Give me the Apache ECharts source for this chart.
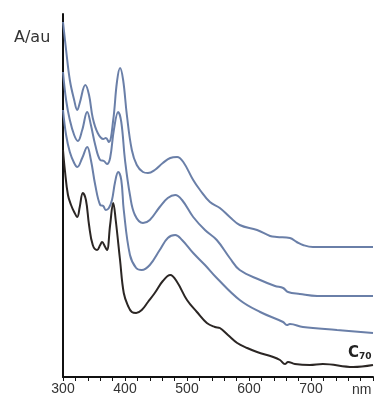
<!DOCTYPE html>
<html>
<head>
<meta charset="utf-8">
<script src="https://cdn.jsdelivr.net/npm/echarts@6/dist/echarts.min.js"></script>
<style>
  html, body { margin: 0; padding: 0; background: #fff; }
  #chart { width: 376px; height: 394px; }
</style>
</head>
<body>
<div id="chart"></div>
<script>
// Stacked UV-vis absorption spectra (offset for clarity), wavelength in nm
const nmTop = [300,305,311,318,323,327,336,342,348,356,365,369,374,381,387,392,397,403,411,419,429,437,448,461,473,484,494,510,521,537,553,569,585,613,634,645,666,677,687,703,800];
const absTop = [3.55,3.27,2.97,2.77,2.67,2.74,2.92,2.82,2.59,2.44,2.38,2.39,2.35,2.57,2.95,3.09,2.97,2.62,2.27,2.12,2.05,2.04,2.07,2.14,2.19,2.20,2.15,1.97,1.87,1.75,1.69,1.60,1.52,1.47,1.41,1.40,1.39,1.35,1.32,1.30,1.30];

const nmMid = [300,305,311,318,324,331,339,345,352,360,366,371,376,382,389,394,400,408,416,429,440,456,469,481,492,510,529,548,569,585,618,642,655,663,682,710,800];
const absMid = [3.05,2.77,2.57,2.42,2.36,2.47,2.65,2.52,2.32,2.17,2.16,2.13,2.19,2.47,2.65,2.55,2.17,1.82,1.62,1.54,1.57,1.70,1.79,1.82,1.77,1.60,1.47,1.37,1.19,1.07,0.97,0.91,0.89,0.85,0.83,0.81,0.81];

const nmLow = [300,305,311,318,323,331,339,345,352,360,365,369,374,379,384,389,394,398,408,418,427,440,456,469,481,492,510,529,548,585,618,655,661,666,687,742,800];
const absLow = [2.67,2.42,2.25,2.14,2.10,2.19,2.30,2.17,1.92,1.72,1.71,1.67,1.69,1.77,1.95,2.05,1.97,1.67,1.22,1.09,1.07,1.12,1.27,1.39,1.42,1.37,1.24,1.12,0.99,0.77,0.65,0.55,0.52,0.53,0.50,0.47,0.44];

const nmC70 = [300,303,308,313,318,323,327,332,337,342,348,355,360,363,368,371,376,381,385,392,398,405,411,418,427,437,448,461,473,484,500,516,532,545,553,566,581,597,613,639,650,658,663,674,698,719,768,800];
const absC70 = [2.27,2.07,1.82,1.72,1.65,1.60,1.70,1.84,1.77,1.52,1.32,1.27,1.32,1.35,1.30,1.27,1.52,1.74,1.57,1.17,0.84,0.71,0.65,0.64,0.67,0.75,0.84,0.96,1.02,0.95,0.77,0.65,0.54,0.50,0.49,0.42,0.34,0.29,0.25,0.20,0.17,0.13,0.15,0.13,0.12,0.13,0.10,0.12];

const xTicks = [300, 400, 500, 600, 700];

function pairs(xs, ys) { return xs.map((x, i) => [x, ys[i]]); }

const blue = '#6a7fa8';
const dark = '#2b2624';

function spectrum(name, xs, ys, color) {
  return {
    name: name,
    type: 'line',
    data: pairs(xs, ys),
    smooth: 0.4,
    showSymbol: false,
    lineStyle: { color: color, width: 2 },
    z: color === dark ? 4 : 3
  };
}

const chart = echarts.init(document.getElementById('chart'), null, { renderer: 'canvas' });
chart.setOption({
  animation: false,
  backgroundColor: '#ffffff',
  title: {
    text: 'A/au',
    left: 9,
    top: 25,
    textStyle: { fontFamily: 'DejaVu Sans', fontSize: 16, fontWeight: 'normal', color: '#333' }
  },
  grid: { left: 63, right: 3, top: 14, bottom: 17, containLabel: false, outerBoundsMode: 'none' },
  xAxis: {
    type: 'value',
    min: 300,
    max: 800,
    interval: 20,
    name: 'nm',
    nameLocation: 'end',
    nameGap: -21,
    nameTextStyle: {
      fontFamily: 'Liberation Sans', fontSize: 14, color: '#333',
      verticalAlign: 'top', padding: [6, 0, 0, 0]
    },
    axisLine: { lineStyle: { color: '#111', width: 2 } },
    axisTick: { show: true, length: 4, inside: false, lineStyle: { color: '#111', width: 1 } },
    axisLabel: {
      interval: 0,
      margin: 5,
      fontFamily: 'Liberation Sans',
      fontSize: 14,
      color: '#333',
      formatter: function (v) {
        return xTicks.indexOf(v) >= 0 ? String(v) : '';
      }
    },
    splitLine: { show: false }
  },
  yAxis: {
    type: 'value',
    min: 0,
    max: 3.63,
    axisLine: { show: true, lineStyle: { color: '#111', width: 2 } },
    axisTick: { show: false },
    axisLabel: { show: false },
    splitLine: { show: false }
  },
  graphic: [{
    type: 'text',
    left: 348,
    top: 346,
    style: {
      text: '{c|C}{s|70}',
      rich: {
        c: { fontFamily: 'DejaVu Sans', fontSize: 15, fontWeight: 'bold', fill: '#222' },
        s: { fontFamily: 'DejaVu Sans', fontSize: 9, fontWeight: 'bold', fill: '#222', padding: [6, 0, 0, 0] }
      }
    }
  }],
  series: [
    spectrum('top', nmTop, absTop, blue),
    spectrum('middle', nmMid, absMid, blue),
    spectrum('lower', nmLow, absLow, blue),
    spectrum('C70', nmC70, absC70, dark)
  ]
});
</script>
</body>
</html>
